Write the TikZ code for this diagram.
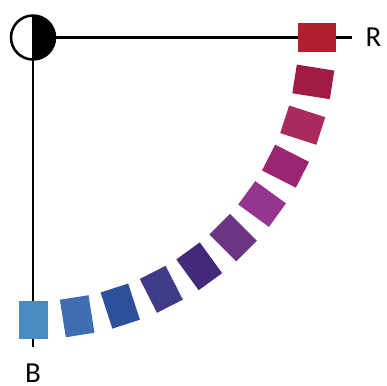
\documentclass[tikz,border=0pt]{standalone}
\usepackage{fontspec}
\setmainfont{Carlito}
\usetikzlibrary{calc}
\definecolor{c1}{HTML}{B01E2F}
\definecolor{c2}{HTML}{A01C45}
\definecolor{c3}{HTML}{AA2A5E}
\definecolor{c4}{HTML}{9B2570}
\definecolor{c5}{HTML}{953590}
\definecolor{c6}{HTML}{6C3483}
\definecolor{c7}{HTML}{42297A}
\definecolor{c8}{HTML}{3F3B8A}
\definecolor{c9}{HTML}{2E4F9A}
\definecolor{c10}{HTML}{416DB3}
\definecolor{c11}{HTML}{4A8AC3}
\begin{document}
\begin{tikzpicture}[x=1pt,y=-1pt,
  axis/.style={line width=2.5pt,black},
  sq/.style={draw=none,minimum width=38pt,minimum height=29pt,inner sep=0pt,outer sep=0pt},
  lbl/.style={font=\fontsize{29}{29}\selectfont,anchor=base,inner sep=0pt}]
\useasboundingbox (0,0) rectangle (387,385);
\coordinate (O) at (33,37.5);
\coordinate (Rend) at (352,37.5);
\coordinate (Bend) at (33,347);
% axes
\draw[axis] (O) -- (Bend);
\node[circle,minimum size=44pt,inner sep=0pt,outer sep=0pt] (C) at (O) {};
\draw[axis] (C.east) -- (Rend);
\fill[black] (C.north) arc[start angle=90,end angle=-90,radius=22pt] -- cycle;
\draw[axis] (O) circle[radius=22pt];
\draw[axis] (C.north) -- (C.south);
% squares
\foreach \i/\c in {0/c1,1/c2,2/c3,3/c4,4/c5,5/c6,6/c7,7/c8,8/c9,9/c10,10/c11}{
  \pgfmathsetmacro{\ang}{9*\i}
  \pgfmathsetmacro{\rr}{284-0.2*\i}
  \node[sq,fill=\c,rotate=-\ang] (s\i) at ($(O)+({\rr*cos(\ang)},{\rr*sin(\ang)})$) {};
}
\node[lbl] (R) at (373.5,46.5) {R};
\node[lbl] (B) at (33,382.5) {B};
\end{tikzpicture}
\end{document}
